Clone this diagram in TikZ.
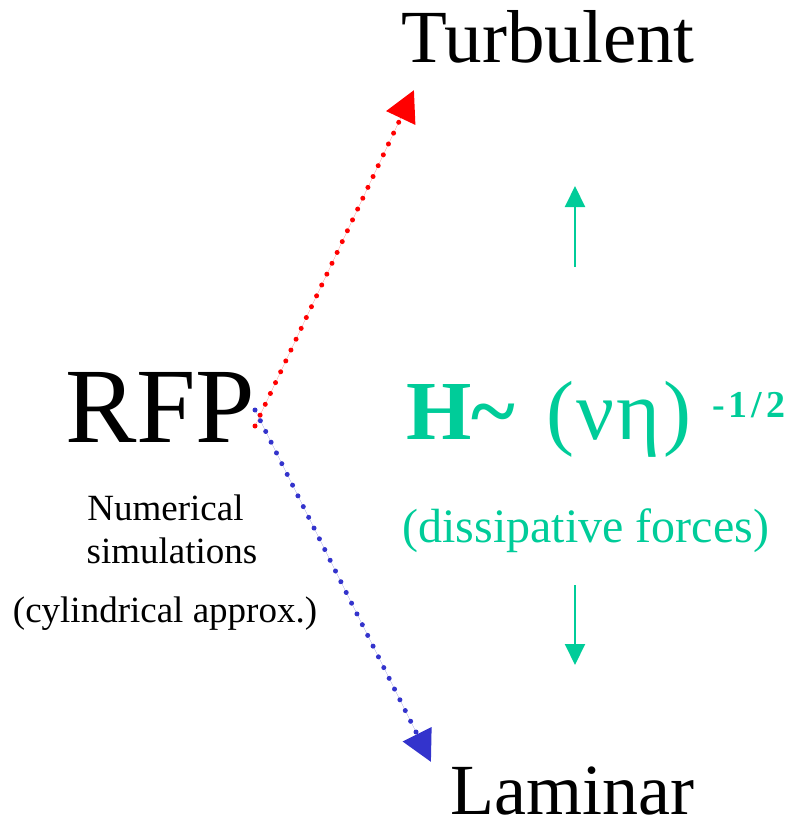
\documentclass[tikz,border=0pt]{standalone}
\usepackage{fontspec}
\setmainfont{Liberation Serif}
\usetikzlibrary{arrows.meta}
\definecolor{tgreen}{RGB}{0,204,153}
\definecolor{dblue}{RGB}{51,51,204}
\definecolor{dred}{RGB}{255,0,0}
\begin{document}
\begin{tikzpicture}[x=1pt,y=-1pt,
  lbl/.style={inner sep=0pt,outer sep=0pt},
  dotarrow/.style={line width=5pt,line cap=round,dash pattern=on 0pt off 12pt,
    -{Triangle[length=31pt,width=31pt]}},
  garrow/.style={draw=tgreen,line width=2pt,-{Triangle[length=21pt,width=20pt]}}]
\useasboundingbox (0,0) rectangle (802,821);
% main labels
\node[lbl,anchor=base west,font=\fontsize{75}{80}\selectfont] (turb) at (401.5,63) {Turbulent};
\node[lbl,anchor=base west,text depth=0pt,font=\fontsize{72}{78}\selectfont] (lam) at (450.5,814) {Laminar};
\node[lbl,anchor=base west,font=\fontsize{107}{112}\selectfont] (rfp) at (65,442) {RFP};
\node[lbl,anchor=base,font=\fontsize{37}{40}\selectfont] (num) at (165.5,520) {Numerical};
\node[lbl,anchor=base,font=\fontsize{37}{40}\selectfont] (sim) at (172,563) {simulations};
\node[lbl,anchor=base,font=\fontsize{37}{40}\selectfont] (cyl) at (165,622) {(cylindrical approx.)};
% formula
\node[lbl,anchor=base west,text=tgreen,font=\fontsize{84}{90}\selectfont] (form) at (406,439)
  {\textbf{H\char"007E}\hspace{31pt}(\hspace{2.5pt}ν\hspace{2.5pt}η\hspace{2.5pt})};
\node[lbl,anchor=base west,text=tgreen,font=\fontsize{38}{40}\selectfont\bfseries] (expo) at (712,417)
  {-\hspace{4pt}1\hspace{4pt}/\hspace{4pt}2};
\node[lbl,anchor=base west,text=tgreen,font=\fontsize{48}{52}\selectfont] (diss) at (402.5,542) {(dissipative forces)};
% dotted arrows
\coordinate (rs) at (255,426);
\coordinate (rt) at (414,90);
\coordinate (bs) at (255,410);
\coordinate (bt) at (431,762);
\draw[dotarrow,draw=dred,fill=dred] (rs) -- (rt);
\draw[dotarrow,draw=dblue,fill=dblue] (bs) -- (bt);
% green arrows
\coordinate (gu0) at (575,267);
\coordinate (gu1) at (575,186);
\coordinate (gd0) at (575,585);
\coordinate (gd1) at (575,665);
\draw[garrow,fill=tgreen] (gu0) -- (gu1);
\draw[garrow,fill=tgreen] (gd0) -- (gd1);
\end{tikzpicture}
\end{document}
